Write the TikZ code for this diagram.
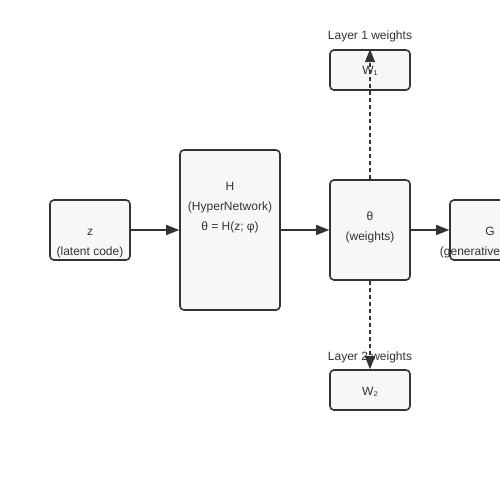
\documentclass[tikz,border=0pt]{standalone}
\usepackage{fontspec}
\setmainfont{Liberation Sans}
\usetikzlibrary{arrows.meta}
\definecolor{ink}{HTML}{333333}
\definecolor{boxfill}{HTML}{F7F7F7}
\begin{document}
\begin{tikzpicture}[x=1pt,y=-1pt,
  blk/.style={draw=ink,fill=boxfill,line width=1.6pt,rounded corners=4pt,inner sep=0pt},
  lbl/.style={text=ink,font=\fontsize{12}{14}\selectfont,inner sep=0pt,anchor=base},
  conn/.style={draw=ink,line width=1.3pt,-{Triangle[length=13pt,width=10pt]}},
  dconn/.style={conn,dash pattern=on 4pt off 3pt}]
\useasboundingbox (0,0) rectangle (500,500);
\clip (0,0) rectangle (500,500);
\fill[white] (0,0) rectangle (500,500);
% boxes
\node[blk,minimum width=80pt,minimum height=60pt] (z) at (90,230) {};
\node[blk,minimum width=100pt,minimum height=160pt] (h) at (230,230) {};
\node[blk,minimum width=80pt,minimum height=100pt] (t) at (370,230) {};
\node[blk,minimum width=80pt,minimum height=60pt] (g) at (490,230) {};
\node[blk,minimum width=80pt,minimum height=40pt] (w1) at (370,70) {};
\node[blk,minimum width=80pt,minimum height=40pt] (w2) at (370,390) {};
% texts
\node[lbl] (zt1) at (90,235) {z};
\node[lbl] (zt2) at (90,255) {(latent code)};
\node[lbl] (ht1) at (230,190) {H};
\node[lbl] (ht2) at (230,210) {(HyperNetwork)};
\node[lbl] (ht3) at (230,230) {θ = H(z; φ)};
\node[lbl] (tt1) at (370,220) {θ};
\node[lbl] (tt2) at (370,240) {(weights)};
\node[lbl] (gt1) at (490,235) {G};
\node[lbl] (gt2) at (490,255) {(generative model)};
\node[lbl] (w1t) at (370,75) {W₁};
\node[lbl] (w2t) at (370,395) {W₂};
\node[lbl] (l1) at (370,40) {Layer 1 weights};
\node[lbl] (l2) at (370,360) {Layer 2 weights};
% connectors
\draw[conn] (z.east) -- (h.west);
\draw[conn] (h.east) -- (t.west);
\draw[conn] (t.east) -- (g.west);
\draw[dconn] (t.north) -- (w1.north);
\draw[dconn] (t.south) -- (w2.north);
\end{tikzpicture}
\end{document}
